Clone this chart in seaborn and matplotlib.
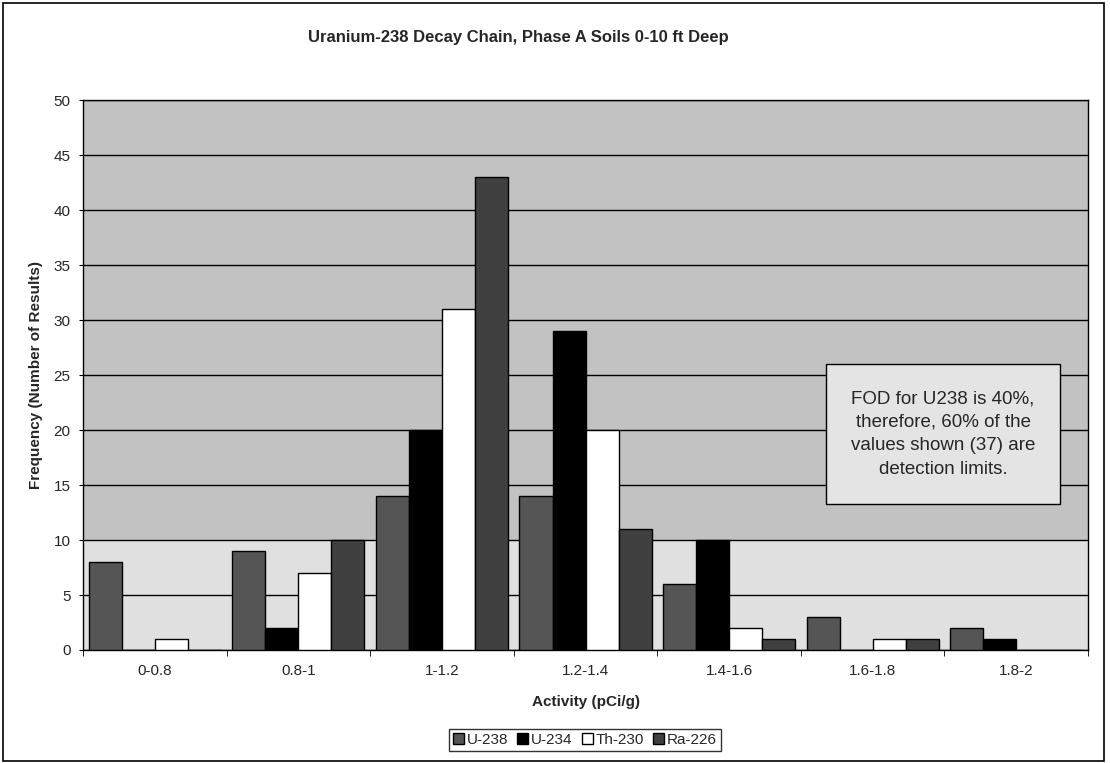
import pandas as pd
import matplotlib
matplotlib.use("Agg")
import matplotlib.pyplot as plt
import seaborn as sns
from matplotlib.patches import Rectangle

# chart data
categories = ["0-0.8", "0.8-1", "1-1.2", "1.2-1.4", "1.4-1.6", "1.6-1.8", "1.8-2"]
u238 = [8, 9, 14, 14, 6, 3, 2]
u234 = [0, 2, 20, 29, 10, 0, 1]
th230 = [1, 7, 31, 20, 2, 1, 0]
ra226 = [0, 10, 43, 11, 1, 1, 0]
series_names = ["U-238", "U-234", "Th-230", "Ra-226"]

rows = []
for name, vals in zip(series_names, [u238, u234, th230, ra226]):
    for cat, v in zip(categories, vals):
        rows.append({"bin": cat, "series": name, "count": v})
df = pd.DataFrame(rows)

sns.set_style("white")
plt.rcParams["font.family"] = ["Liberation Sans", "DejaVu Sans"]

fig = plt.figure(figsize=(11.1, 7.63), dpi=100)
ax = fig.add_axes([0.0748, 0.1481, 0.9054, 0.7208])

palette = {"U-238": "#555555", "U-234": "#000000", "Th-230": "#ffffff", "Ra-226": "#404040"}
sns.barplot(data=df, x="bin", y="count", hue="series", palette=palette,
            width=0.92, gap=0, edgecolor="black", linewidth=1,
            saturation=1, ax=ax, zorder=3)

# stippled background: darker above 10, lighter near the bottom
ax.set_facecolor("#c2c2c2")
ax.axhspan(0, 10, color="#e0e0e0", zorder=0, linewidth=0)
ax.set_ylim(0, 50)
ax.set_yticks(range(0, 51, 5))
ax.set_xlim(-0.5, len(categories) - 0.5)
ax.yaxis.grid(True, color="black", linewidth=1, zorder=1)
ax.set_axisbelow(True)
for s in ax.spines.values():
    s.set_color("black")
    s.set_linewidth(1)

# tick marks between categories, labels centered
ax.set_xticks(range(len(categories)))
ax.set_xticklabels(categories, fontsize=11)
ax.tick_params(axis="x", length=0, pad=10)
ax.set_xticks([i - 0.5 for i in range(len(categories) + 1)], minor=True)
ax.tick_params(axis="x", which="minor", length=4, color="black", direction="out", bottom=True)
ax.tick_params(axis="y", length=3, color="black", direction="out", labelsize=11, left=True, pad=6)

ax.set_xlabel("Activity (pCi/g)", fontsize=11, fontweight="bold", va="center")
ax.xaxis.set_label_coords(0.5, -0.0945)
ax.set_ylabel("Frequency (Number of Results)", fontsize=11, fontweight="bold", va="center")
ax.yaxis.set_label_coords(-0.047, 0.5)

fig.text(0.4667, 0.9515, "Uranium-238 Decay Chain, Phase A Soils 0-10 ft Deep",
         ha="center", va="center", fontsize=12, fontweight="bold")

# note box
ax.add_patch(Rectangle((0.7393, 0.2655), 0.2328, 0.2545, transform=ax.transAxes,
                       facecolor="#e4e4e4", edgecolor="black", linewidth=1, zorder=5))
ax.text(0.8557, 0.3927,
        "FOD for U238 is 40%,\ntherefore, 60% of the\nvalues shown (37) are\ndetection limits.",
        transform=ax.transAxes, ha="center", va="center", fontsize=13.5,
        linespacing=1.5, zorder=6)

handles, labels = ax.get_legend_handles_labels()
ax.legend_.remove()
leg = fig.legend(handles, labels, loc="center", bbox_to_anchor=(0.527, 0.0301), ncol=4,
                 frameon=True, fontsize=11, handlelength=0.7, handleheight=0.7,
                 handletextpad=0.2, columnspacing=0.6, borderpad=0.25, fancybox=False)
leg.get_frame().set_edgecolor("black")
leg.get_frame().set_linewidth(1)

# outer chart frame
fig.patches.append(Rectangle((0.003, 0.002), 0.992, 0.994, transform=fig.transFigure,
                             fill=False, edgecolor="black", linewidth=1.2))

plt.savefig("out.png", dpi=100)
